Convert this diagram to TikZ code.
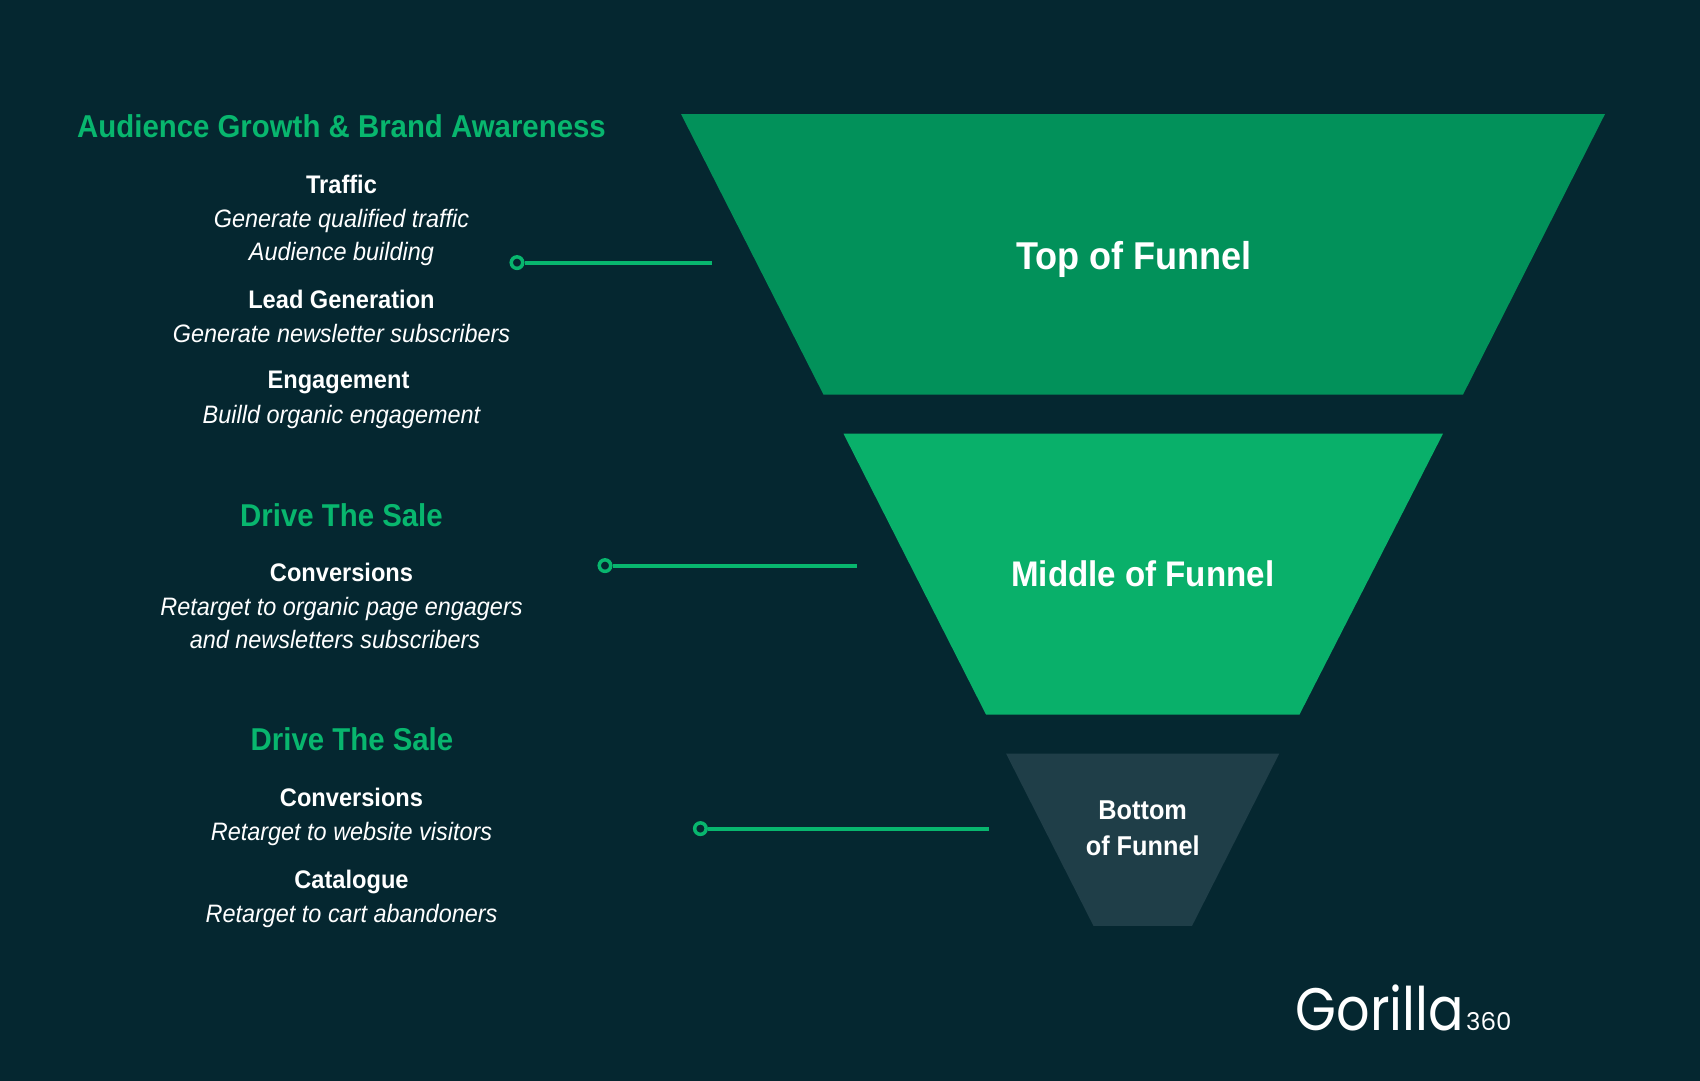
\documentclass[tikz,border=0pt]{standalone}
\usepackage{fontspec}
\setmainfont{Liberation Sans}[FakeStretch=0.93]
\newfontfamily\logofont{Poppins}[FakeStretch=0.875]
\newfontfamily\logonum{Poppins}
\definecolor{bgc}{HTML}{052730}
\definecolor{topc}{HTML}{02915A}
\definecolor{midc}{HTML}{09B06A}
\definecolor{botc}{HTML}{1F3E48}
\definecolor{grn}{HTML}{08B66E}
\newcommand{\fs}[1]{\fontsize{#1}{#1}\selectfont}
\tikzset{
  base/.style={anchor=base,inner sep=0pt,text=white,align=center},
  headtxt/.style={base,text=grn,font=\fs{31.6}\bfseries},
  subtxt/.style={base,font=\fs{25.4}\bfseries},
  desctxt/.style={base,font=\fs{25.2}\itshape},
  ring/.style={circle,draw=grn,line width=3.5pt,fill=none,minimum size=11.5pt,inner sep=0pt},
  link/.style={draw=grn,line width=4pt},
}
\begin{document}
\begin{tikzpicture}[x=1pt,y=-1pt]
\useasboundingbox (0,0) rectangle (1700,1080);
\fill[bgc] (-3,-3) rectangle (1703,1083);
\fill[topc] (681,114) -- (1605,114) -- (1463,394.6) -- (823.5,394.6) -- cycle;
\fill[midc] (843.5,433.7) -- (1443,433.7) -- (1299.5,714.5) -- (986,714.5) -- cycle;
\fill[botc] (1006,753.5) -- (1279.3,753.5) -- (1192,925.9) -- (1093.5,925.9) -- cycle;
\node[base,font=\fs{38.8}\bfseries] (top) at (1134,269) {Top of Funnel};
\node[base,font=\fs{35.6}\bfseries] (mid) at (1142.7,586.5) {Middle of Funnel};
\node[base,font=\fs{27.2}\bfseries] (bot1) at (1142.7,819) {Bottom};
\node[base,font=\fs{27.2}\bfseries] (bot2) at (1142.7,855.8) {of Funnel};
\node[headtxt] (h1) at (341.5,137) {Audience Growth \& Brand Awareness};
\node[subtxt] (s1) at (341.5,193) {Traffic};
\node[desctxt] (d1) at (341.5,227.5) {Generate qualified traffic};
\node[desctxt] (d2) at (341.5,260) {Audience building};
\node[subtxt] (s2) at (341.5,308) {Lead Generation};
\node[desctxt] (d3) at (341.5,342.6) {Generate newsletter subscribers};
\node[subtxt] (s3) at (338.5,388.3) {Engagement};
\node[desctxt] (d4) at (341.5,423) {Builld organic engagement};
\node[headtxt] (h2) at (341.5,526) {Drive The Sale};
\node[subtxt] (s4) at (341.5,581) {Conversions};
\node[desctxt] (d5) at (341.5,615.5) {Retarget to organic page engagers};
\node[desctxt] (d6) at (335,648) {and newsletters subscribers};
\node[headtxt] (h3) at (352,750.5) {Drive The Sale};
\node[subtxt] (s5) at (351.5,806) {Conversions};
\node[desctxt] (d7) at (351.5,840.3) {Retarget to website visitors};
\node[subtxt] (s6) at (351.5,888) {Catalogue};
\node[desctxt] (d8) at (351.5,922.6) {Retarget to cart abandoners};
\node[ring] (r1) at (517,262.6) {};
\coordinate (e1) at (712,262.6);
\draw[link] (r1) -- (e1);
\node[ring] (r2) at (605,565.6) {};
\coordinate (e2) at (856.5,565.6);
\draw[link] (r2) -- (e2);
\node[ring] (r3) at (700.4,828.6) {};
\coordinate (e3) at (988.8,828.6);
\draw[link] (r3) -- (e3);
\node[base,anchor=base west,font=\logofont\fs{60}] (logo) at (1295.5,1030) {Gorilla};
\node[base,anchor=base west,font=\logonum\fs{24.5}] (logo2) at (1466,1030) {360};
\end{tikzpicture}
\end{document}
